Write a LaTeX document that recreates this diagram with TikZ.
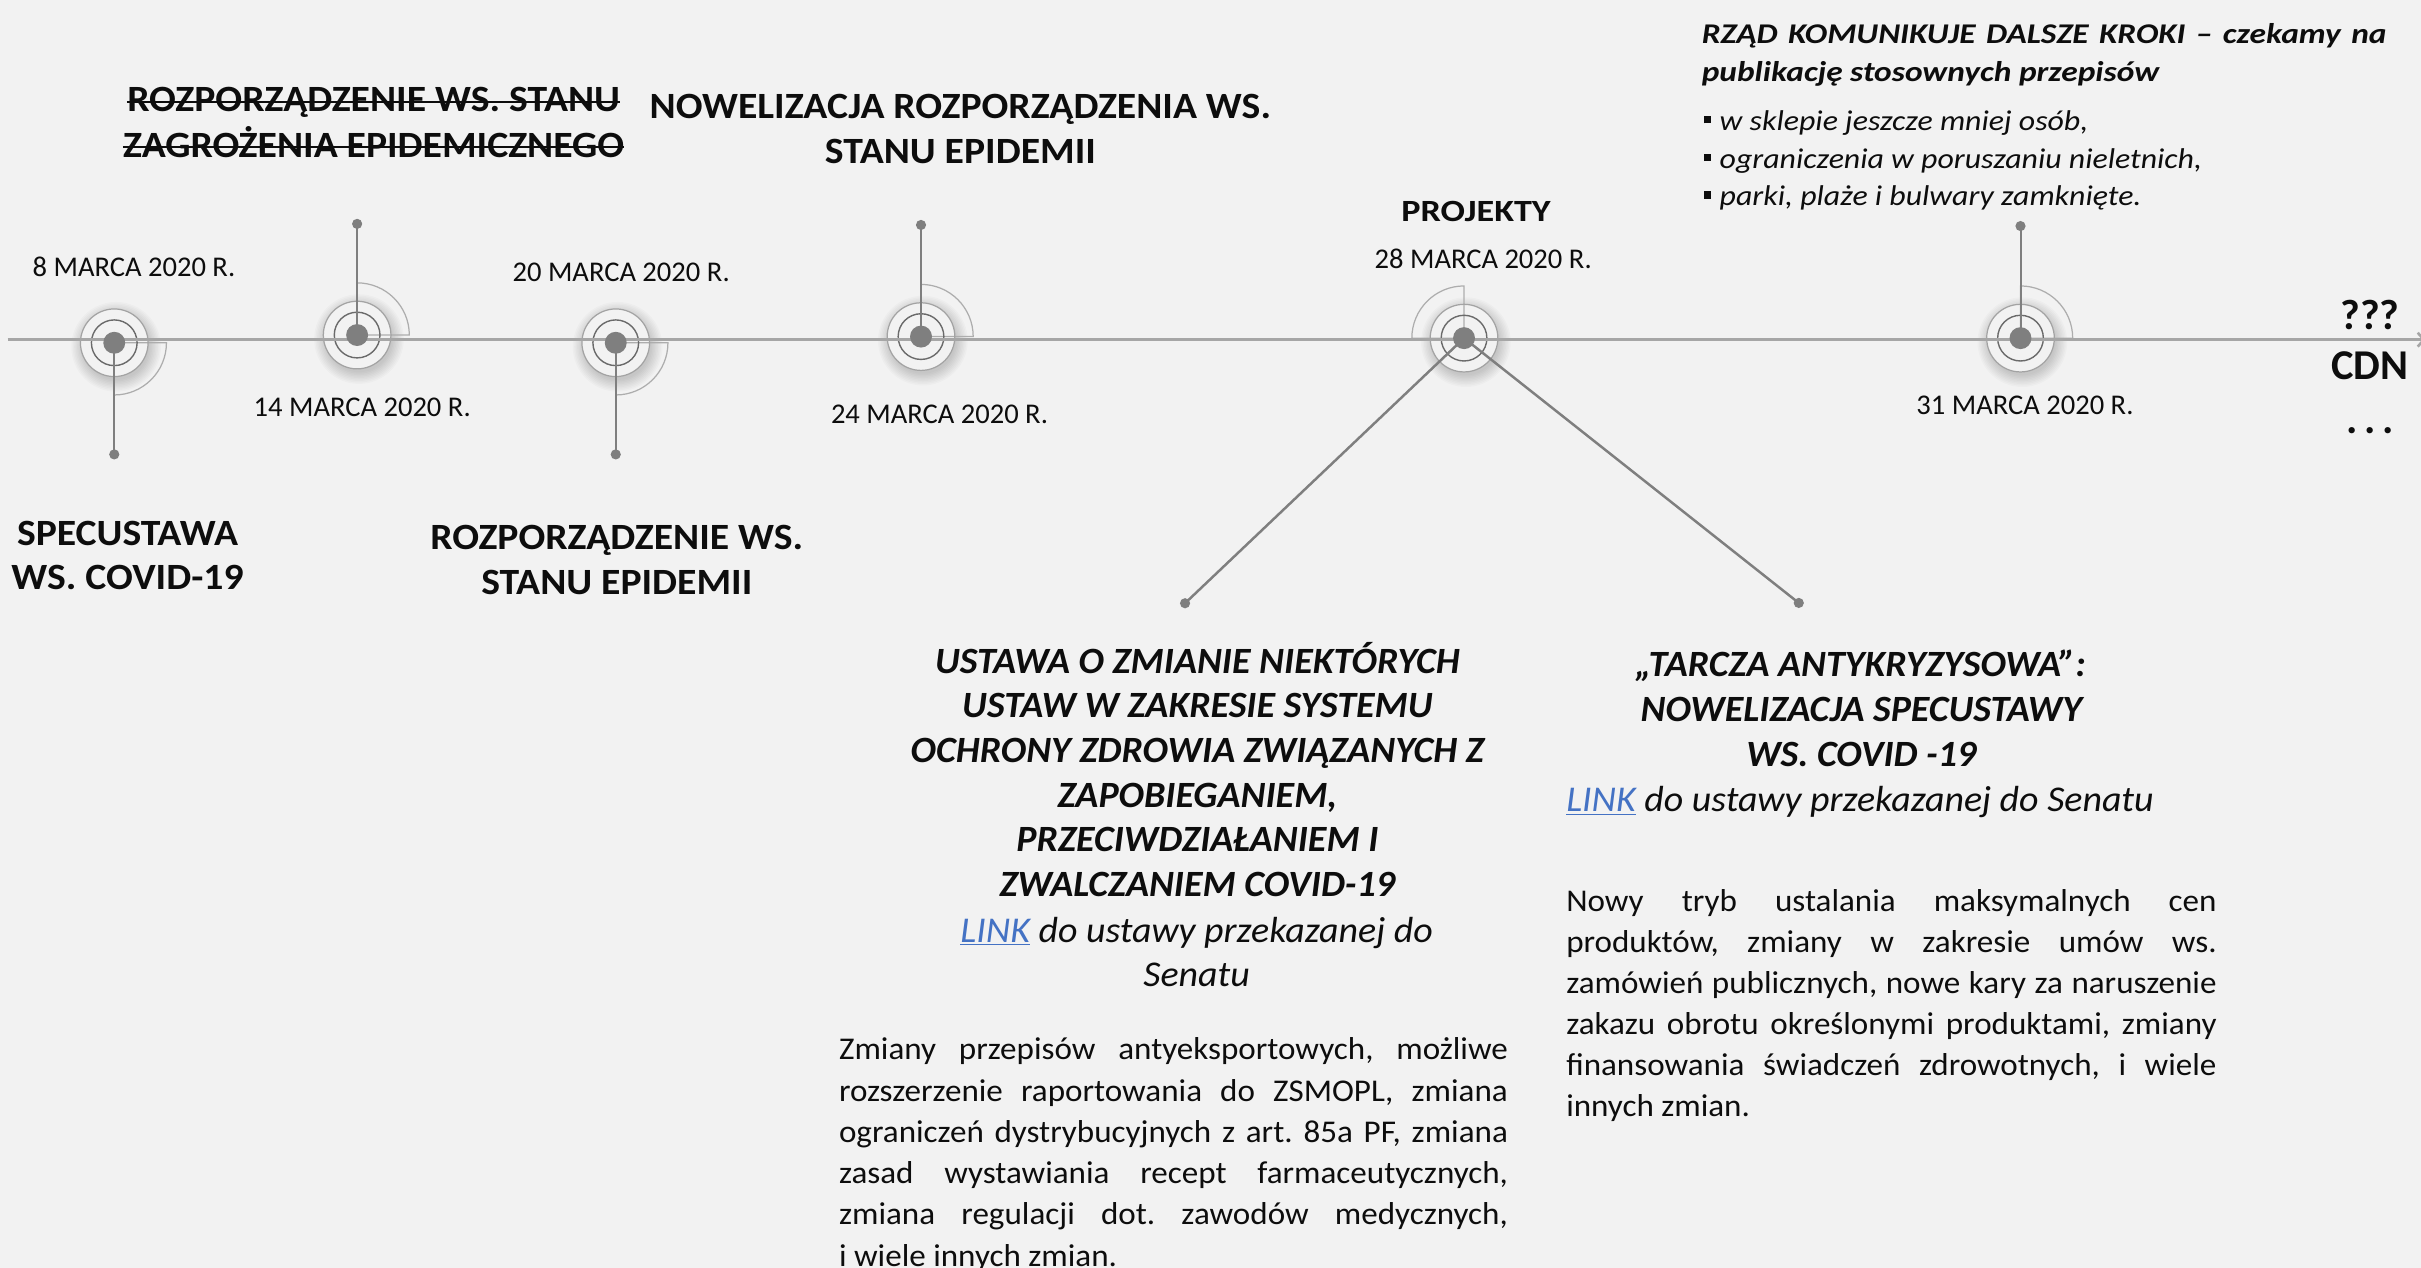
\documentclass[tikz,border=0pt]{standalone}
\usepackage{fontspec}
\setmainfont{Carlito}[UprightFeatures={FakeStretch=1.045},BoldFeatures={FakeStretch=1.07},ItalicFeatures={FakeStretch=1.045},BoldItalicFeatures={FakeStretch=1.025}]
\newfontfamily\datefont{Carlito}
\newfontfamily\projfont{Carlito}[BoldFeatures={FakeStretch=1.17}]
\newfontfamily\trfont{Carlito}[ItalicFeatures={FakeStretch=1.115},BoldItalicFeatures={FakeStretch=1.17}]
\usetikzlibrary{arrows.meta}
\frenchspacing
\definecolor{bgc}{HTML}{F2F2F2}
\definecolor{tlc}{HTML}{A6A6A6}
\definecolor{dotc}{HTML}{7F7F7F}
\definecolor{inc}{HTML}{6A6A6A}
\definecolor{outc}{HTML}{A3A3A3}
\definecolor{secc}{HTML}{ADADAD}
\definecolor{linkc}{HTML}{4472C4}
\definecolor{txt}{HTML}{0D0D0D}
\newcommand{\ringbg}[2]{%
  \foreach \k in {1,...,9}{\fill[black,opacity=0.018] ([shift={(1.2,2.6)}]#1) circle[radius=20.5+\k*0.95];}
  \fill[bgc] (#1) circle[radius=22];
  \draw[sector] (#1) -- ++(#2:33.8) arc[start angle=#2, end angle=#2+90, radius=33.8] -- cycle;
  \draw[outring] (#1) circle[radius=21.9];
  \draw[inring] (#1) circle[radius=14.8];
}
\newcommand{\lnk}{{\color{linkc}\underline{LINK}}}
\newcommand{\sqb}{\rule[0.25em]{0.24em}{0.26em}\hspace{0.3em}}
\begin{document}
\begin{tikzpicture}[x=1pt,y=-1pt,
  sector/.style={draw=secc,line width=0.8pt},
  outring/.style={draw=outc,line width=0.8pt},
  inring/.style={draw=inc,line width=0.9pt},
  tline/.style={draw=tlc,line width=1.7pt},
  stem/.style={draw=dotc,line width=1.3pt},
  diag/.style={draw=dotc,line width=1.6pt},
  date/.style={font=\datefont\fontsize{18.5}{22}\selectfont,anchor=base,inner sep=0pt,text=txt},
  proj/.style={font=\projfont\bfseries\fontsize{20}{24}\selectfont,anchor=base,inner sep=0pt,text=txt},
  hb/.style={font=\bfseries\fontsize{24}{29}\selectfont,anchor=base,inner sep=0pt,text=txt},
  hbi/.style={font=\bfseries\itshape\fontsize{24}{29}\selectfont,anchor=base,inner sep=0pt,text=txt},
  li/.style={font=\itshape\fontsize{23.5}{29}\selectfont,anchor=base,inner sep=0pt,text=txt},
  para/.style={font=\fontsize{20.5}{26}\selectfont,anchor=base west,inner sep=0pt,text=txt},
  trb/.style={font=\trfont\bfseries\itshape\fontsize{18.5}{24}\selectfont,anchor=base west,inner sep=0pt,text=txt},
  tri/.style={font=\trfont\itshape\fontsize{18.5}{24}\selectfont,anchor=base west,inner sep=0pt,text=txt},
  cdn/.style={font=\datefont\bfseries\fontsize{27.5}{32}\selectfont,anchor=base,inner sep=0pt,text=txt},
  strike/.style={draw=txt,line width=1.4pt}]
\fill[bgc] (0,0) rectangle (1568,821.2);
\useasboundingbox (0,0) rectangle (1568,821.2);
% coordinates
\coordinate (n1) at (74,222);
\coordinate (n2) at (231.3,217);
\coordinate (n3) at (398.8,222);
\coordinate (n4) at (596.5,218);
\coordinate (n5) at (948.2,219);
\coordinate (n6) at (1308.6,219);
\coordinate (e1) at (74,294.3);
\coordinate (e2) at (231.3,145);
\coordinate (e3) at (398.8,294.3);
\coordinate (e4) at (596.5,145.7);
\coordinate (e5a) at (767.5,390.7);
\coordinate (e5b) at (1165,390.5);
\coordinate (e6) at (1308.6,146.4);
\coordinate (tl0) at (5,220);
\coordinate (tl1) at (1571,220);
% ring backgrounds
\ringbg{n1}{0}
\ringbg{n2}{-90}
\ringbg{n3}{0}
\ringbg{n4}{-90}
\ringbg{n5}{180}
\ringbg{n6}{-90}
% timeline
\draw[tline,-{Straight Barb[length=4pt,width=9pt]}] (tl0) -- (tl1);
% stems
\draw[stem] (n1) -- (e1);
\draw[stem] (n2) -- (e2);
\draw[stem] (n3) -- (e3);
\draw[stem] (n4) -- (e4);
\draw[stem] (n6) -- (e6);
\draw[diag] (n5) -- (e5a);
\draw[diag] (n5) -- (e5b);
\foreach \e in {e1,e2,e3,e4,e5a,e5b,e6}{\fill[dotc] (\e) circle[radius=3.3];}
\foreach \n in {n1,n2,n3,n4,n5,n6}{\fill[dotc] (\n) circle[radius=7.1];}
% dates
\node[date] (d1) at (86.8,178.8) {8 MARCA 2020 R.};
\node[date] (d2) at (234.6,270) {14 MARCA 2020 R.};
\node[date] (d3) at (402.3,182.4) {20 MARCA 2020 R.};
\node[date] (d4) at (608.5,274.2) {24 MARCA 2020 R.};
\node[date] (d5) at (960.6,173.8) {28 MARCA 2020 R.};
\node[date] (d6) at (1311.5,268.4) {31 MARCA 2020 R.};
\node[proj] (pr) at (956,143.6) {PROJEKTY};
% headings
\node[hb] (sp1) at (82.6,353) {SPECUSTAWA};
\node[hb] (sp2) at (82.6,382) {WS. COVID-19};
\node[hb] (rz1) at (399.5,356) {ROZPORZĄDZENIE WS.};
\node[hb] (rz2) at (399.5,385) {STANU EPIDEMII};
\node[hb] (st1) at (242,72.3) {ROZPORZĄDZENIE WS. STANU};
\node[hb] (st2) at (242,101.9) {ZAGROŻENIA EPIDEMICZNEGO};
\draw[strike] ([yshift=6.5pt]st1.base west) -- ([yshift=6.5pt]st1.base east);
\draw[strike] ([yshift=6.5pt]st2.base west) -- ([yshift=6.5pt]st2.base east);
\node[hb] (nw1) at (622,76.6) {NOWELIZACJA ROZPORZĄDZENIA WS.};
\node[hb] (nw2) at (622,105.8) {STANU EPIDEMII};
% ustawa
\node[hbi] (u1) at (775.5,436) {USTAWA O ZMIANIE NIEKTÓRYCH};
\node[hbi] (u2) at (775.5,464.9) {USTAW W ZAKRESIE SYSTEMU};
\node[hbi] (u3) at (775.5,493.8) {OCHRONY ZDROWIA ZWIĄZANYCH Z};
\node[hbi] (u4) at (775.5,522.7) {ZAPOBIEGANIEM,};
\node[hbi] (u5) at (775.5,551.6) {PRZECIWDZIAŁANIEM I};
\node[hbi] (u6) at (775.5,580.5) {ZWALCZANIEM COVID-19};
\node[li] (ul1) at (775,610.5) {\lnk{} do ustawy przekazanej do};
\node[li] (ul2) at (775,639) {Senatu};
\node[para] (pa1) at (543.2,686.5) {\makebox[433.2pt][s]{Zmiany przepisów antyeksportowych, możliwe}};
\node[para] (pa2) at (543.2,713.2) {\makebox[433.2pt][s]{rozszerzenie raportowania do ZSMOPL, zmiana}};
\node[para] (pa3) at (543.2,739.9) {\makebox[433.2pt][s]{ograniczeń dystrybucyjnych z art. 85a PF, zmiana}};
\node[para] (pa4) at (543.2,766.6) {\makebox[433.2pt][s]{zasad wystawiania recept farmaceutycznych,}};
\node[para] (pa5) at (543.2,793.3) {\makebox[433.2pt][s]{zmiana regulacji dot. zawodów medycznych,}};
\node[para] (pa6) at (543.2,820) {i wiele innych zmian.};
% tarcza
\node[hbi] (t1) at (1205,438.3) {„TARCZA ANTYKRYZYSOWA”:};
\node[hbi] (t2) at (1205.5,467.4) {NOWELIZACJA SPECUSTAWY};
\node[hbi] (t3) at (1205.5,496.5) {WS. COVID -19};
\node[li,anchor=base west] (tl) at (1014.2,525.7) {\lnk{} do ustawy przekazanej do Senatu};
\node[para] (pb1) at (1014.2,590.5) {\makebox[421.2pt][s]{Nowy tryb ustalania maksymalnych cen}};
\node[para] (pb2) at (1014.2,617.1) {\makebox[421.2pt][s]{produktów, zmiany w zakresie umów ws.}};
\node[para] (pb3) at (1014.2,643.6) {\makebox[421.2pt][s]{zamówień publicznych, nowe kary za naruszenie}};
\node[para] (pb4) at (1014.2,670.2) {\makebox[421.2pt][s]{zakazu obrotu określonymi produktami, zmiany}};
\node[para] (pb5) at (1014.2,696.7) {\makebox[421.2pt][s]{finansowania świadczeń zdrowotnych, i wiele}};
\node[para] (pb6) at (1014.2,723.3) {innych zmian.};
% top right
\node[trb] (r1) at (1102,28.1) {\makebox[443.5pt][s]{RZĄD KOMUNIKUJE DALSZE KROKI – czekamy na}};
\node[trb] (r2) at (1102,52.5) {publikację stosownych przepisów};
\node[tri] (b1) at (1103.6,84.6) {\sqb w sklepie jeszcze mniej osób,};
\node[tri] (b2) at (1103.6,109) {\sqb ograniczenia w poruszaniu nieletnich,};
\node[tri] (b3) at (1103.6,133.4) {\sqb parki, plaże i bulwary zamknięte.};
% cdn
\node[cdn] (q) at (1535,213.7) {???};
\node[cdn] (c) at (1535,246) {CDN};
\node[cdn] (dd) at (1535,280.6) {.\kern4.5pt.\kern4.5pt.};
\end{tikzpicture}
\end{document}
